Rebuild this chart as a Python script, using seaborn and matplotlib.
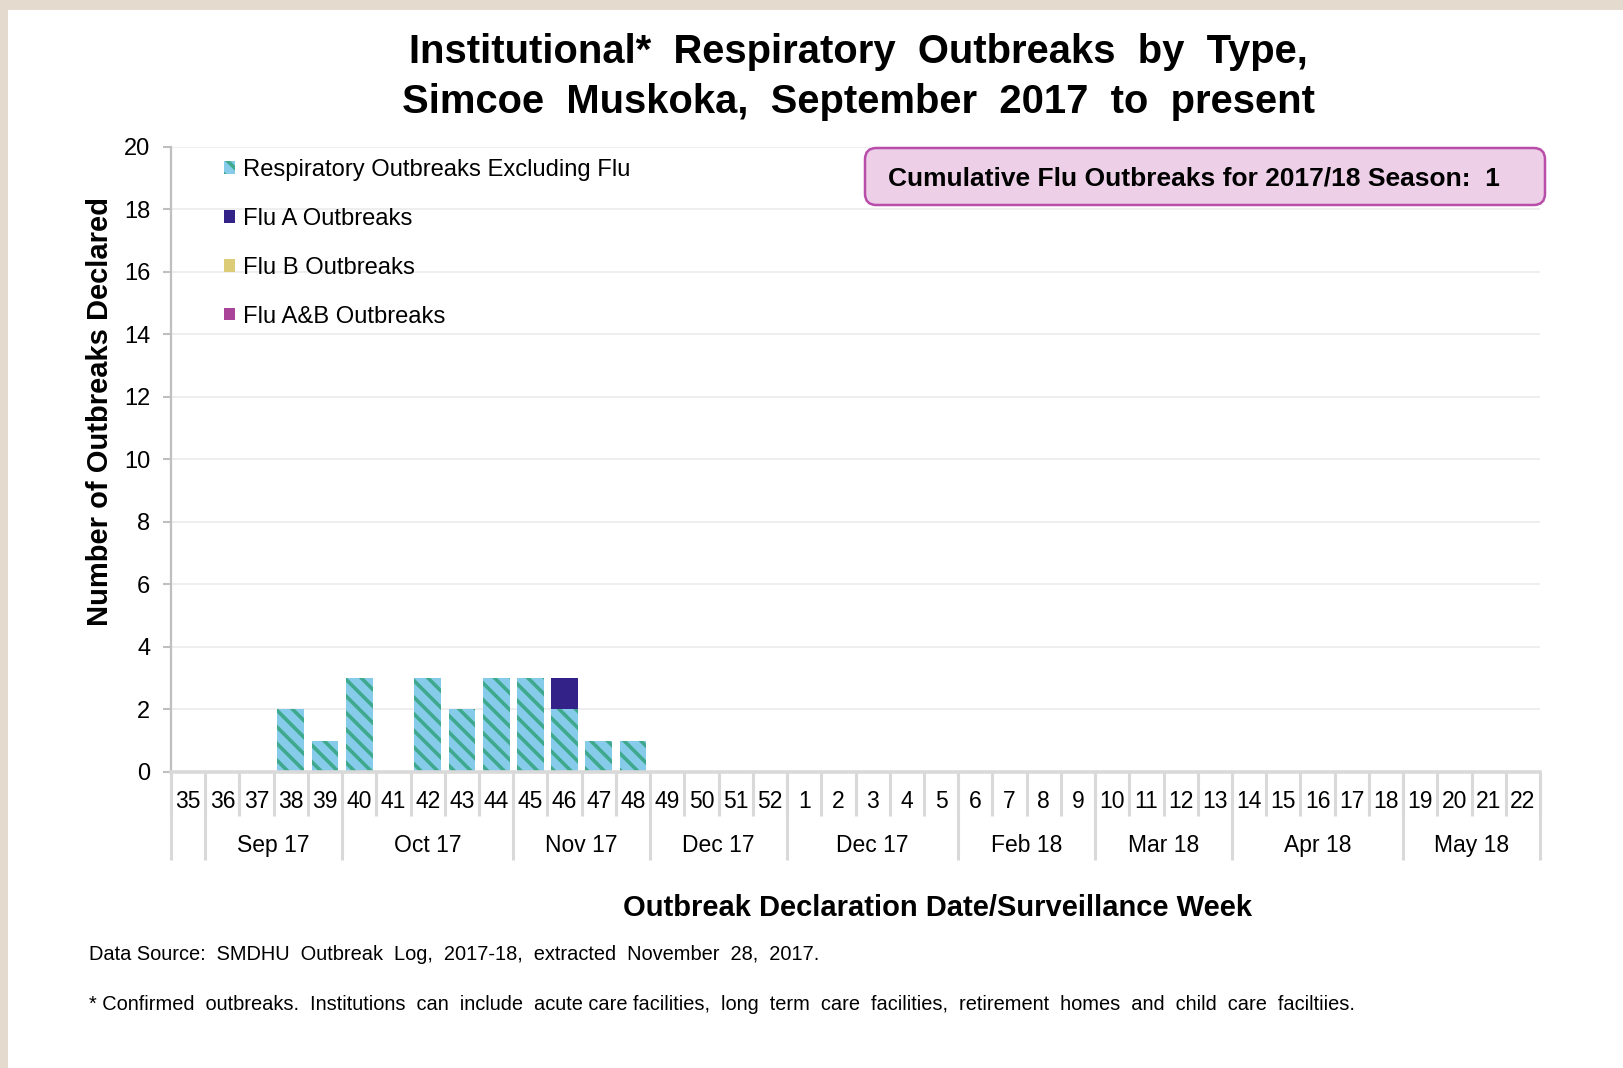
import numpy as np
import pandas as pd
import matplotlib
matplotlib.use('Agg')
import matplotlib.pyplot as plt
from matplotlib.patches import Patch, Rectangle, FancyBboxPatch
from matplotlib import font_manager
import seaborn as sns

# surveillance weeks, Sept 2017 -> May 2018
weeks = ['35', '36', '37', '38', '39', '40', '41', '42', '43', '44', '45', '46',
         '47', '48', '49', '50', '51', '52', '1', '2', '3', '4', '5', '6', '7',
         '8', '9', '10', '11', '12', '13', '14', '15', '16', '17', '18', '19',
         '20', '21', '22']
resp_excl_flu = [0, 0, 0, 2, 1, 3, 0, 3, 2, 3, 3, 2, 1, 1, 0, 0, 0, 0, 0, 0,
                 0, 0, 0, 0, 0, 0, 0, 0, 0, 0, 0, 0, 0, 0, 0, 0, 0, 0, 0, 0]
flu_a = [0, 0, 0, 0, 0, 0, 0, 0, 0, 0, 0, 1, 0, 0, 0, 0, 0, 0, 0, 0,
         0, 0, 0, 0, 0, 0, 0, 0, 0, 0, 0, 0, 0, 0, 0, 0, 0, 0, 0, 0]
flu_b = [0, 0, 0, 0, 0, 0, 0, 0, 0, 0, 0, 0, 0, 0, 0, 0, 0, 0, 0, 0,
         0, 0, 0, 0, 0, 0, 0, 0, 0, 0, 0, 0, 0, 0, 0, 0, 0, 0, 0, 0]
flu_ab = [0, 0, 0, 0, 0, 0, 0, 0, 0, 0, 0, 0, 0, 0, 0, 0, 0, 0, 0, 0,
          0, 0, 0, 0, 0, 0, 0, 0, 0, 0, 0, 0, 0, 0, 0, 0, 0, 0, 0, 0]
month_labels = ['', 'Sep 17', 'Oct 17', 'Nov 17', 'Dec 17', 'Dec 17',
                'Feb 18', 'Mar 18', 'Apr 18', 'May 18']
month_weeks = [1, 4, 5, 4, 4, 5, 4, 4, 5, 4]
yticks = [0, 2, 4, 6, 8, 10, 12, 14, 16, 18, 20]

series_names = ['Respiratory Outbreaks Excluding Flu', 'Flu A Outbreaks',
                'Flu B Outbreaks', 'Flu A&B Outbreaks']
c_resp, c_hatch = '#86CCEA', '#3FA98E'
c_a, c_b, c_ab = '#332288', '#DDCC77', '#AA4499'

sns.set_style('white')
names = {f.name for f in font_manager.fontManager.ttflist}
narrow = 'Liberation Sans Narrow' if 'Liberation Sans Narrow' in names else 'Liberation Sans'
plt.rcParams['font.family'] = ['Liberation Sans', 'DejaVu Sans']
plt.rcParams['hatch.linewidth'] = 2.6
for k in ['text.color', 'axes.labelcolor', 'xtick.color', 'ytick.color']:
    plt.rcParams[k] = 'black'

fig = plt.figure(figsize=(16.24, 10.68), dpi=100, facecolor='#E4DACD')
fig.add_artist(Rectangle((8 / 1624, 0), 1, 1 - 10 / 1068, transform=fig.transFigure,
                         facecolor='white', edgecolor='none', zorder=-5))

ax = fig.add_axes([0.1053, 0.2772, 0.8430, 0.5852])

df = pd.DataFrame({'week': weeks, 'resp': resp_excl_flu, 'a': flu_a,
                   'b': flu_b, 'ab': flu_ab})

sns.barplot(data=df, x='week', y='resp', order=weeks, color=c_resp, saturation=1,
            width=0.78, hatch='\\\\', edgecolor=c_hatch, linewidth=0,
            errorbar=None, ax=ax, zorder=2)
bottom = np.array(resp_excl_flu, dtype=float)
for col, colr in [('a', c_a), ('b', c_b), ('ab', c_ab)]:
    sns.barplot(data=df, x='week', y=col, order=weeks, color=colr, saturation=1,
                width=0.78, bottom=bottom, linewidth=0, errorbar=None, ax=ax, zorder=2)
    bottom = bottom + df[col].to_numpy()

ax.set_xlim(-0.5, len(weeks) - 0.5)
ax.set_ylim(0, 20)
ax.set_yticks(yticks)
ax.yaxis.grid(True, color='#EBEBEB', lw=1.2)
ax.set_axisbelow(True)
ax.set_xlabel('')
ax.set_ylabel('')
for s in ['top', 'right']:
    ax.spines[s].set_visible(False)
ax.spines['left'].set_color('#BFBFBF')
ax.spines['left'].set_linewidth(1.6)
ax.spines['bottom'].set_color('#D9D9D9')
ax.spines['bottom'].set_linewidth(2.6)
ax.spines['bottom'].set_zorder(3)
ax.tick_params(axis='y', length=6, color='#BFBFBF', width=1.5, labelsize=17,
               pad=9, direction='out', left=True, labelcolor='black')
ax.tick_params(axis='x', length=0, labelbottom=False)

# two-level category axis underneath
xt = ax.get_xaxis_transform()
bounds = np.arange(len(weeks) + 1) - 0.5
ax.vlines(bounds, -0.07, 0, transform=xt, colors='#D9D9D9', lw=2.2, clip_on=False)
mb = np.concatenate([[0], np.cumsum(month_weeks)]) - 0.5
ax.vlines(mb, -0.141, 0, transform=xt, colors='#D9D9D9', lw=2.2, clip_on=False)
for i, w in enumerate(weeks):
    ax.text(i, -0.048, w, transform=xt, ha='center', va='center', fontsize=16.5)
for lab, c in zip(month_labels, (mb[:-1] + mb[1:]) / 2):
    ax.text(c, -0.118, lab, transform=xt, ha='center', va='center', fontsize=16.5)

handles = [Patch(facecolor=c_resp, edgecolor=c_hatch, hatch='\\\\', linewidth=0),
           Patch(facecolor=c_a, linewidth=0),
           Patch(facecolor=c_b, linewidth=0),
           Patch(facecolor=c_ab, linewidth=0)]
fig.legend(handles, series_names, loc='upper left',
           bbox_to_anchor=(224 / 1624, 1 - 159 / 1068), frameon=False,
           fontsize=17.1, handlelength=0.45, handleheight=0.45,
           handletextpad=0.35, labelspacing=1.13, borderpad=0, borderaxespad=0)

fig.text(858 / 1624, 1 - 77 / 1068,
         'Institutional*  Respiratory  Outbreaks  by  Type,\nSimcoe  Muskoka,  September  2017  to  present',
         ha='center', va='center', fontsize=28.8, fontweight='bold', linespacing=1.38)
fig.text(100 / 1624, 1 - 411 / 1068, 'Number of Outbreaks Declared', rotation=90,
         ha='center', va='center', fontsize=21, fontweight='bold')
fig.text(938 / 1624, 1 - 908 / 1068, 'Outbreak Declaration Date/Surveillance Week',
         ha='center', va='center', fontsize=21, fontweight='bold', family=narrow)
fig.text(89 / 1624, 1 - 955 / 1068,
         'Data Source:  SMDHU  Outbreak  Log,  2017-18,  extracted  November  28,  2017.',
         ha='left', va='center', fontsize=14.4, family=narrow)
fig.text(89 / 1624, 1 - 1004 / 1068,
         '* Confirmed  outbreaks.  Institutions  can  include  acute care facilities,  long  term  care  facilities,  retirement  homes  and  child  care  faciltiies.',
         ha='left', va='center', fontsize=14.4, family=narrow)

box = FancyBboxPatch((865 / 1624, 1 - 205 / 1068), 680 / 1624, 57 / 1068,
                     boxstyle='round,pad=0,rounding_size=0.007',
                     mutation_aspect=1624 / 1068, transform=fig.transFigure,
                     facecolor='#EDCFE8', edgecolor='#B84DAA', linewidth=1.8)
fig.add_artist(box)
fig.text(888 / 1624, 1 - 178 / 1068, 'Cumulative Flu Outbreaks for 2017/18 Season:  1',
         ha='left', va='center', fontsize=19, fontweight='bold', family=narrow)

fig.savefig('out.png', dpi=100, facecolor=fig.get_facecolor())
